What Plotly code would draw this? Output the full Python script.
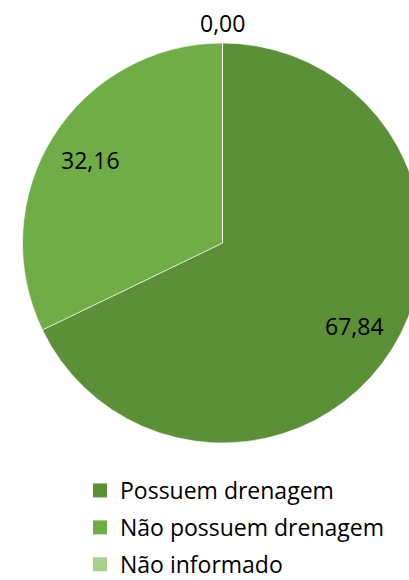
import math
import plotly.graph_objects as go

categories = ["Possuem drenagem", "Não possuem drenagem", "Não informado"]
values = [67.84, 32.16, 0.00]
value_labels = ["67,84", "32,16", "0,00"]
colors = ["#5B9038", "#70AD47", "#A9D18E"]

W, H = 445, 620
PIE_TOP, PIE_BOTTOM = 43, 443  # pixel rows of the pie
R = (PIE_BOTTOM - PIE_TOP) / 2
CX, CY = W / 2, (PIE_TOP + PIE_BOTTOM) / 2

fig = go.Figure()
fig.add_trace(
    go.Pie(
        labels=categories,
        values=values,
        textinfo="none",
        sort=False,
        direction="clockwise",
        rotation=0,
        marker=dict(colors=colors, line=dict(color="white", width=0.6)),
        domain=dict(x=[0, 1], y=[1 - PIE_BOTTOM / H, 1 - PIE_TOP / H]),
        hoverinfo="label+value",
        showlegend=False,
    )
)

# data labels placed along each slice's mid-angle
total = sum(values)
cum = 0.0
annotations = []
for v, lab in zip(values, value_labels):
    theta = 2 * math.pi * (cum + v / 2) / total
    cum += v
    rr = 0.78 * R if v > 0 else R + 20
    px = CX + rr * math.sin(theta)
    py = CY - rr * math.cos(theta)
    annotations.append(
        dict(
            x=px / W, y=1 - py / H, xref="paper", yref="paper",
            text=lab, showarrow=False, xanchor="center", yanchor="middle",
            font=dict(family="Open Sans", size=23, color="black"),
        )
    )

# legend entries (one per category)
for cat, col in zip(categories, colors):
    fig.add_trace(
        go.Scatter(
            x=[None], y=[None], mode="markers", name=cat, legendgroup=cat,
            marker=dict(symbol="square", size=14, color=col),
            showlegend=True, hoverinfo="skip",
        )
    )

fig.update_layout(
    width=W,
    height=H,
    margin=dict(l=0, r=0, t=0, b=0),
    paper_bgcolor="white",
    plot_bgcolor="white",
    font=dict(family="Open Sans", color="black"),
    xaxis=dict(visible=False),
    yaxis=dict(visible=False),
    annotations=annotations,
    legend=dict(
        x=80 / W,
        y=1 - 469 / H,
        xanchor="left",
        yanchor="top",
        font=dict(family="Open Sans", size=23, color="black"),
        bgcolor="rgba(0,0,0,0)",
        traceorder="grouped",
        tracegroupgap=4,
    ),
)

fig.write_html(
    "out.html",
    config={"displayModeBar": False},
    post_script="document.documentElement.style.overflow='hidden';"
    "document.body.style.margin='0';document.body.style.overflow='hidden';",
)
